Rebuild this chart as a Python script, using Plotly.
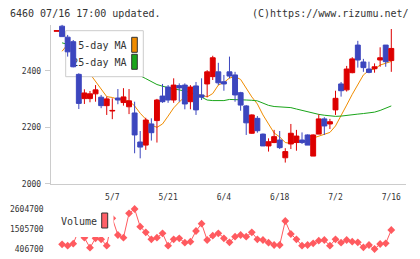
import plotly.graph_objects as go

# ---------------- data ----------------
dates = ["4/18", "4/21", "4/22", "4/23", "4/24", "4/25", "4/28", "4/30", "5/1", "5/2",
         "5/7", "5/8", "5/9", "5/12", "5/13", "5/14", "5/15", "5/16", "5/19", "5/20",
         "5/21", "5/22", "5/23", "5/26", "5/27", "5/28", "5/29", "5/30", "6/2", "6/3",
         "6/4", "6/5", "6/6", "6/9", "6/10", "6/11", "6/12", "6/13", "6/16", "6/17",
         "6/18", "6/19", "6/20", "6/23", "6/24", "6/25", "6/26", "6/27", "6/30", "7/1",
         "7/2", "7/3", "7/4", "7/7", "7/8", "7/9", "7/10", "7/11", "7/14", "7/15", "7/16"]
label_dates = ["5/7", "5/21", "6/4", "6/18", "7/2", "7/16"]

opens = [2541, 2559, 2520, 2504, 2388, 2302, 2302, 2319, 2307, 2277,
         2258, 2304, 2288, 2273, 2251, 2148, 2137, 2212, 2224, 2311,
         2343, 2297, 2348, 2350, 2291, 2347, 2315, 2354, 2380, 2397,
         2362, 2397, 2386, 2323, 2276, 2179, 2232, 2176, 2134, 2146,
         2155, 2092, 2141, 2146, 2155, 2173, 2098, 2176, 2230, 2212,
         2262, 2354, 2333, 2394, 2492, 2432, 2407, 2408, 2439, 2492, 2437]
highs = [2543, 2564, 2528, 2510, 2392, 2335, 2329, 2350, 2315, 2309,
         2303, 2336, 2339, 2336, 2291, 2187, 2234, 2232, 2301, 2354,
         2350, 2374, 2356, 2356, 2350, 2361, 2374, 2403, 2454, 2429,
         2386, 2451, 2397, 2326, 2279, 2246, 2240, 2178, 2161, 2191,
         2187, 2126, 2212, 2191, 2182, 2175, 2175, 2246, 2236, 2230,
         2330, 2361, 2418, 2449, 2507, 2443, 2433, 2427, 2484, 2492, 2549]
lows = [2541, 2522, 2451, 2413, 2265, 2283, 2289, 2291, 2268, 2244,
        2229, 2282, 2277, 2247, 2108, 2090, 2120, 2153, 2146, 2287,
        2287, 2287, 2291, 2264, 2264, 2244, 2297, 2307, 2368, 2350,
        2330, 2374, 2291, 2259, 2173, 2177, 2181, 2134, 2114, 2144,
        2123, 2075, 2123, 2117, 2141, 2137, 2098, 2176, 2173, 2194,
        2244, 2309, 2327, 2392, 2412, 2397, 2392, 2394, 2415, 2415, 2397]
closes = [2543, 2522, 2468, 2415, 2285, 2322, 2319, 2333, 2277, 2301,
          2260, 2297, 2308, 2294, 2173, 2130, 2226, 2181, 2297, 2291,
          2297, 2350, 2340, 2283, 2343, 2262, 2307, 2397, 2447, 2358,
          2354, 2382, 2315, 2279, 2216, 2244, 2188, 2134, 2149, 2167,
          2128, 2114, 2179, 2169, 2146, 2137, 2173, 2230, 2205, 2220,
          2303, 2330, 2407, 2443, 2439, 2412, 2395, 2415, 2447, 2433, 2480]
ma5 = [None, 2470, 2495, 2480, 2452, 2420, 2390, 2364, 2336, 2309,
       2306, 2299, 2294, 2294, 2276, 2250, 2228, 2208, 2200, 2212,
       2240, 2269, 2290, 2308, 2320, 2318, 2315, 2308, 2320, 2350,
       2359, 2375, 2380, 2370, 2340, 2308, 2283, 2244, 2212, 2180,
       2166, 2146, 2143, 2149, 2146, 2152, 2162, 2168, 2174, 2182,
       2205, 2240, 2279, 2317, 2352, 2386, 2402, 2407, 2421, 2427, 2434]
ma25 = [None, 2500, 2495, 2488, 2478, 2470, 2461, 2452, 2443, 2434,
        2424, 2414, 2405, 2397, 2390, 2383, 2373, 2363, 2352, 2346,
        2340, 2336, 2333, 2329, 2324, 2317, 2307, 2297, 2295, 2295,
        2295, 2299, 2299, 2299, 2297, 2296, 2294, 2286, 2278, 2274,
        2273, 2272, 2270, 2265, 2260, 2254, 2250, 2246, 2243, 2240,
        2239, 2240, 2243, 2245, 2247, 2249, 2252, 2254, 2260, 2267, 2276]
volume = [None, 665000, 588000, 698000, 1450000, 1028000, 478000, 995000, 940000, 588000,
          2094000, 1176000, 1028000, 2368000, 2604700, 1632000, 1324000, 940000, 1028000, 1269000,
          588000, 940000, 995000, 753000, 808000, 1396000, 1797000, 901000, 1138000, 1269000,
          995000, 775000, 1083000, 1176000, 1083000, 1324000, 940000, 901000, 753000, 626000,
          626000, 1945000, 1231000, 940000, 588000, 626000, 720000, 863000, 901000, 588000,
          940000, 753000, 901000, 808000, 775000, 500000, 626000, 406700, 681000, 720000, 1451000]
price_ticks = [2000, 2200, 2400]

n = len(dates)
assert all(len(a) == n for a in (opens, highs, lows, closes, ma5, ma25, volume))
xs = list(range(n))

# ---------------- layout geometry (pixels) ----------------
W, H = 420, 259
PX_L, PX_R = 50.7, 405.7
PX_TOP, PX_BOT = 24.5, 183.7
X_RANGE = [-1.04, 62.58]
Y_RANGE = [2000, 2565]
VOL_TOP, VOL_BOT = 205, 253

FONT = "DejaVu Sans Mono"
TXT = "#333333"
GRID = "#cccccc"
RED = "#dd0000"
BLUE = "#3c46be"
ORANGE = "#f08c00"
GREEN = "#1aa51a"
VOLC = "#ff5a5f"


def fx(px):
    return px / W


def fy(py):
    return 1 - py / H


def dx(px):
    return X_RANGE[0] + (px - PX_L) / (PX_R - PX_L) * (X_RANGE[1] - X_RANGE[0])


def dy(py):
    return Y_RANGE[0] + (PX_BOT - py) / (PX_BOT - PX_TOP) * (Y_RANGE[1] - Y_RANGE[0])


fig = go.Figure()

# moving averages (bottom layer)
fig.add_trace(go.Scatter(x=xs, y=ma5, mode="lines", line=dict(color=ORANGE, width=1),
                         xaxis="x", yaxis="y", hoverinfo="skip", connectgaps=False))
fig.add_trace(go.Scatter(x=xs, y=ma25, mode="lines", line=dict(color=GREEN, width=1),
                         xaxis="x", yaxis="y", hoverinfo="skip", connectgaps=False))

# legend box (over MA lines, under candles)
bx0, bx1, by0, by1 = dx(65.7), dx(143.3), dy(30.7), dy(76.7)
fig.add_trace(go.Scatter(x=[bx0, bx1, bx1, bx0, bx0], y=[by0, by0, by1, by1, by0],
                         mode="lines", fill="toself", fillcolor="white",
                         line=dict(color=GRID, width=1), xaxis="x", yaxis="y",
                         hoverinfo="skip"))
fig.add_trace(go.Scatter(x=[dx(126.5), dx(126.5)], y=[dy(46), dy(63)],
                         text=["5-day MA", "25-day MA"], mode="text",
                         textposition="middle left",
                         textfont=dict(family=FONT, size=10, color=TXT),
                         xaxis="x", yaxis="y", hoverinfo="skip"))

# candles on an overlaid subplot so they sit above the legend box
fig.add_trace(go.Candlestick(x=xs, open=opens, high=highs, low=lows, close=closes,
                             increasing=dict(line=dict(color=RED, width=1), fillcolor=RED),
                             decreasing=dict(line=dict(color=BLUE, width=1), fillcolor=BLUE),
                             whiskerwidth=0, xaxis="x2", yaxis="y2", hoverinfo="skip"))

# volume
fig.add_trace(go.Scatter(x=xs, y=volume, mode="lines+markers",
                         line=dict(color=VOLC, width=1),
                         marker=dict(symbol="diamond", size=6, color=VOLC),
                         xaxis="x3", yaxis="y3", hoverinfo="skip", connectgaps=False))

vvals = [v for v in volume if v is not None]
vmin, vmax = min(vvals), max(vvals)
vmid = (vmin + vmax) / 2

label_idx = [dates.index(d) for d in label_dates]

xdom = [fx(PX_L), fx(PX_R)]
fig.update_layout(
    width=W, height=H, margin=dict(l=0, r=0, t=0, b=0, pad=0, autoexpand=False),
    paper_bgcolor="white", plot_bgcolor="rgba(0,0,0,0)",
    showlegend=False, boxgap=0.12, boxgroupgap=0,
    xaxis=dict(domain=xdom, range=X_RANGE, anchor="y", showline=True, linecolor=GRID,
               linewidth=1, showgrid=False, zeroline=False, ticks="",
               tickvals=label_idx, ticktext=label_dates,
               tickfont=dict(family=FONT, size=8, color=TXT), ticklabelstandoff=6,
               rangeslider=dict(visible=False), fixedrange=True, automargin=False),
    yaxis=dict(domain=[fy(PX_BOT), fy(PX_TOP)], range=Y_RANGE, anchor="x", showline=True,
               linecolor=GRID, linewidth=1, showgrid=False, zeroline=False,
               ticks="outside", ticklen=5, tickcolor=GRID, tickvals=price_ticks,
               tickfont=dict(family=FONT, size=8, color=TXT), ticklabelstandoff=2,
               fixedrange=True, automargin=False),
    xaxis2=dict(overlaying="x", range=X_RANGE, visible=False, anchor="y2",
                rangeslider=dict(visible=False), fixedrange=True),
    yaxis2=dict(overlaying="y", range=Y_RANGE, visible=False, anchor="x2", fixedrange=True),
    xaxis4=dict(overlaying="x", anchor="y", range=[0, 11], tickvals=list(range(12)),
                ticks="outside", ticklen=6, tickcolor=GRID, showticklabels=False,
                showline=False, showgrid=False, zeroline=False, fixedrange=True),
    xaxis5=dict(overlaying="x", anchor="y", range=[0, 11], tickvals=list(range(12)),
                ticks="inside", ticklen=4, tickcolor=GRID, showticklabels=False,
                showline=False, showgrid=False, zeroline=False, fixedrange=True),
    xaxis3=dict(domain=xdom, range=X_RANGE, anchor="y3", visible=False, fixedrange=True),
    yaxis3=dict(domain=[fy(VOL_BOT), fy(VOL_TOP)],
                range=[vmin - (vmax - vmin) * 0.1, vmax + (vmax - vmin) * 0.1],
                anchor="x3", showline=False, showgrid=False, zeroline=False, ticks="",
                tickvals=[vmin, vmid, vmax],
                ticktext=[str(int(v)) for v in (vmin, vmid, vmax)],
                tickfont=dict(family=FONT, size=8, color=TXT), ticklabelstandoff=6,
                fixedrange=True, automargin=False),
)

shapes = [
    # legend swatches
    dict(type="rect", xref="paper", yref="paper", x0=fx(131.7), x1=fx(137.3),
         y0=fy(52.3), y1=fy(37.3), fillcolor=ORANGE, line=dict(color="#333333", width=1),
         layer="above"),
    dict(type="rect", xref="paper", yref="paper", x0=fx(131.7), x1=fx(137.3),
         y0=fy(69.3), y1=fy(54.3), fillcolor=GREEN, line=dict(color="#333333", width=1),
         layer="above"),
    # volume legend box & swatch
    dict(type="rect", xref="paper", yref="paper", x0=fx(53), x1=fx(113.5),
         y0=fy(237), y1=fy(204), fillcolor="white", line=dict(width=0), layer="above"),
    dict(type="rect", xref="paper", yref="paper", x0=fx(101.7), x1=fx(107.7),
         y0=fy(228), y1=fy(213), fillcolor="#ff6068", line=dict(color="#333333", width=1),
         layer="above"),
]
fig.update_layout(shapes=shapes)

ann = [
    dict(text="6460 07/16 17:00 updated.", x=fx(8), y=fy(13), xref="paper", yref="paper",
         xanchor="left", yanchor="middle", showarrow=False,
         font=dict(family=FONT, size=10, color=TXT)),
    dict(text="(C)https://www.rizumu.net/", x=fx(411), y=fy(13), xref="paper", yref="paper",
         xanchor="right", yanchor="middle", showarrow=False,
         font=dict(family=FONT, size=10, color=TXT)),
    dict(text="Volume", x=fx(58.5), y=fy(221.5), xref="paper", yref="paper",
         xanchor="left", yanchor="middle", showarrow=False,
         font=dict(family=FONT, size=10, color=TXT)),
]
fig.update_layout(annotations=ann)

fig.write_html("out.html")
